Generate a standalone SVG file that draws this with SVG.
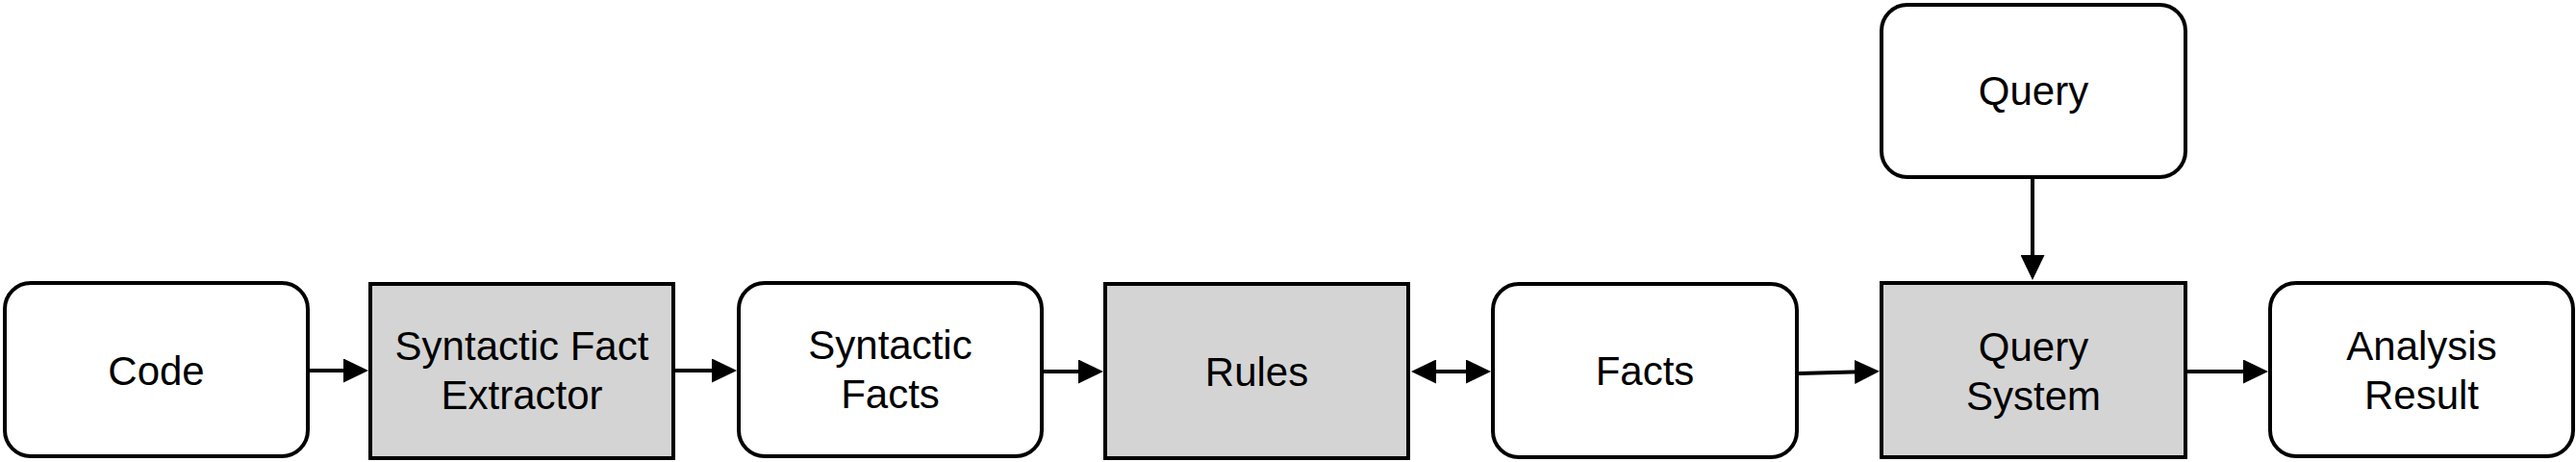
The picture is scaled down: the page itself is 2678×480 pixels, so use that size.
<svg xmlns="http://www.w3.org/2000/svg" width="2678" height="480" viewBox="0 0 2678 480">
<style>
.box{fill:#ffffff;stroke:#000000;stroke-width:4}
.proc{fill:#d4d4d4;stroke:#000000;stroke-width:4}
.lbl{font-family:"Liberation Sans",Arial,Helvetica,sans-serif;font-size:42px;fill:#000000;text-anchor:middle}
.edge{fill:none;stroke:#000000;stroke-width:4}
</style>
<defs>
<marker id="ah" markerUnits="userSpaceOnUse" markerWidth="26" markerHeight="25" refX="16" refY="12.5" orient="auto-start-reverse" viewBox="0 0 26 25">
<path d="M0,0 L26,12.5 L0,25 z" fill="#000000"/>
</marker>
</defs>
<g id="connectors">
<path class="edge" d="M322,385 L373,385" marker-end="url(#ah)"/>
<path class="edge" d="M702,385 L756,385" marker-end="url(#ah)"/>
<path class="edge" d="M1085,386 L1137,386" marker-end="url(#ah)"/>
<path class="edge" d="M1477,386 L1540,386" marker-start="url(#ah)" marker-end="url(#ah)"/>
<path class="edge" d="M1870,388 L1944,386" marker-end="url(#ah)"/>
<path class="edge" d="M2274,386 L2348,386" marker-end="url(#ah)"/>
<path class="edge" d="M2113,186 L2113,281" marker-end="url(#ah)"/>
</g>
<g id="code">
<rect class="box" x="5" y="294" width="315" height="180" rx="27" ry="27"/>
<text class="lbl" x="162.5" y="400">Code</text>
</g>
<g id="extractor">
<rect class="proc" x="385" y="295" width="315" height="181"/>
<text class="lbl" x="542.5" y="374">Syntactic Fact</text>
<text class="lbl" x="542.5" y="425">Extractor</text>
</g>
<g id="syntactic-facts">
<rect class="box" x="768" y="294" width="315" height="180" rx="27" ry="27"/>
<text class="lbl" x="925.5" y="373">Syntactic</text>
<text class="lbl" x="925.5" y="424">Facts</text>
</g>
<g id="rules">
<rect class="proc" x="1149" y="295" width="315" height="181"/>
<text class="lbl" x="1306.5" y="401">Rules</text>
</g>
<g id="facts">
<rect class="box" x="1552" y="295" width="316" height="180" rx="27" ry="27"/>
<text class="lbl" x="1710" y="400">Facts</text>
</g>
<g id="query-system">
<rect class="proc" x="1956" y="294" width="316" height="181"/>
<text class="lbl" x="2114" y="375">Query</text>
<text class="lbl" x="2114" y="426">System</text>
</g>
<g id="analysis-result">
<rect class="box" x="2360" y="294" width="315" height="180" rx="27" ry="27"/>
<text class="lbl" x="2517.5" y="374">Analysis</text>
<text class="lbl" x="2517.5" y="425">Result</text>
</g>
<g id="query">
<rect class="box" x="1956" y="5" width="316" height="179" rx="27" ry="27"/>
<text class="lbl" x="2114" y="109">Query</text>
</g>
</svg>
